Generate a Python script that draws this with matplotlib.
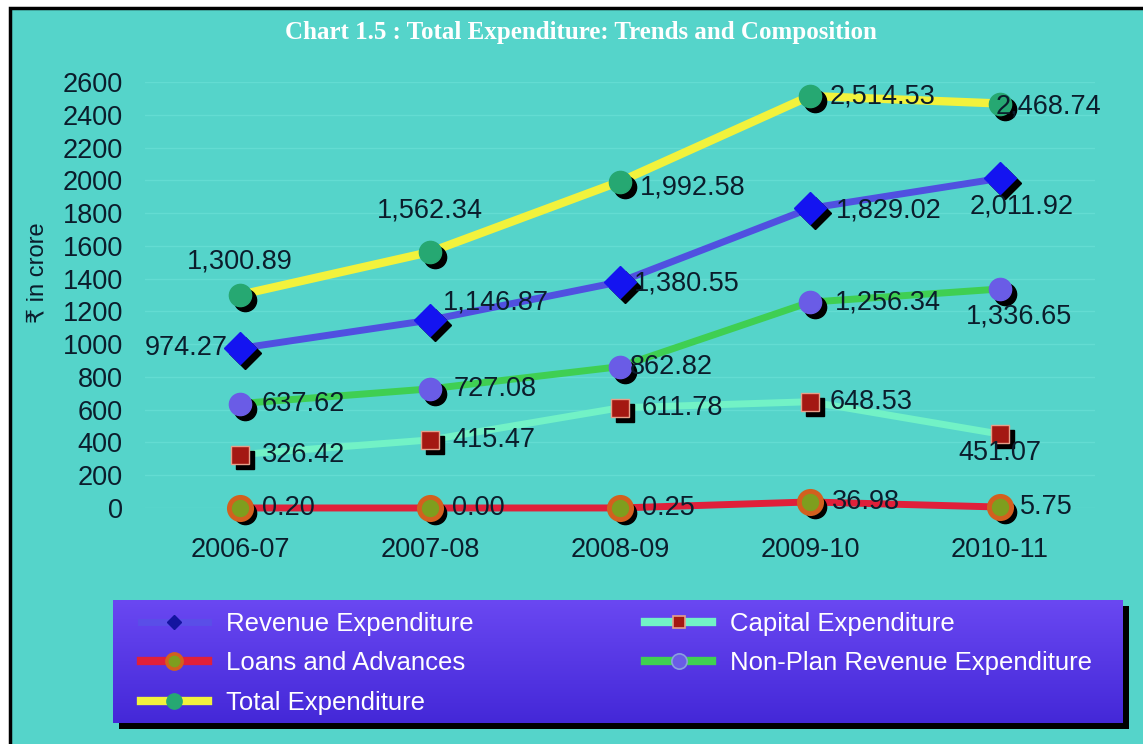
import numpy as np
import matplotlib.pyplot as plt
from matplotlib.lines import Line2D
from matplotlib.patches import Rectangle
from matplotlib.transforms import offset_copy

plt.rcParams['font.family'] = ['Liberation Sans', 'DejaVu Sans']

# --------------------
# Data (Rs. crore)
# --------------------
years = ["2006-07", "2007-08", "2008-09", "2009-10", "2010-11"]

revenue_exp = [974.27, 1146.87, 1380.55, 1829.02, 2011.92]
capital_exp = [326.42, 415.47, 611.78, 648.53, 451.07]
loans_adv = [0.20, 0.00, 0.25, 36.98, 5.75]
nonplan_rev = [637.62, 727.08, 862.82, 1256.34, 1336.65]
total_exp = [1300.89, 1562.34, 1992.58, 2514.53, 2468.74]

y_ticks = list(range(0, 2601, 200))

# label offsets in pixels (dx, dy, ha) for each point
off_total = [(0, 33, "center"), (0, 42, "center"), (20, -6, "left"),
             (20, 0, "left"), (-4, -3, "left")]
off_revenue = [(-12, 0, "right"), (13, 18, "left"), (14, -2, "left"),
               (26, -2, "left"), (22, -28, "center")]
off_nonplan = [(22, 0, "left"), (24, 0, "left"), (10, 0, "left"),
               (25, 0, "left"), (19, -28, "center")]
off_capital = [(22, 0, "left"), (22, 0, "left"), (22, 0, "left"),
               (20, 0, "left"), (0, -19, "center")]
off_loans = [(22, 0, "left"), (22, 0, "left"), (22, 0, "left"),
             (22, 0, "left"), (20, 0, "left")]

BG = "#55d4ca"
LABEL_C = "#0b1d2c"

fig = plt.figure(figsize=(11.43, 7.44), dpi=100, facecolor="white")

# teal panel with black border on top/left
fig.patches.append(Rectangle((10 / 1143, -0.05), 1.1, 1 - 8 / 744 + 0.05,
                             transform=fig.transFigure, facecolor=BG,
                             edgecolor="black", linewidth=2.5, zorder=-2))

fig.text(581 / 1143, 1 - 33 / 744,
         "Chart 1.5 : Total Expenditure: Trends and Composition",
         ha="center", va="center", color="white", fontsize=18,
         fontweight="bold", family="Liberation Serif")

ax = fig.add_axes([145 / 1143, 1 - 508 / 744, 950 / 1143, 426 / 744])
ax.set_facecolor("none")
for s in ax.spines.values():
    s.set_visible(False)

x = np.arange(len(years))
shadow = offset_copy(ax.transData, fig=fig, x=5, y=-5, units="dots")

series = [
    # values, line colour, marker, marker face, marker edge, edge width, size, lw, offsets
    (loans_adv, "#e0203a", "o", "#7e9e1e", "#d2601e", 3.5, 16, 5, off_loans),
    (capital_exp, "#72f2c6", "s", "#a41812", "#e6a08a", 1.0, 13, 5, off_capital),
    (nonplan_rev, "#3fcf52", "o", "#6a5ce6", "#6a5ce6", 1.0, 16, 5, off_nonplan),
    (revenue_exp, "#5050e0", "D", "#1414f0", "#1414f0", 1.0, 16, 5, off_revenue),
    (total_exp, "#f2f23c", "o", "#26a872", "#26a872", 1.0, 16, 6, off_total),
]

for vals, lc, mk, mfc, mec, mew, ms, lw, offs in series:
    ax.plot(x, vals, color=lc, linewidth=lw, solid_capstyle="round", zorder=2,
            clip_on=False)
    ax.plot(x, vals, linestyle="none", marker=mk, markersize=ms,
            markerfacecolor="black", markeredgecolor="black",
            transform=shadow, zorder=3, clip_on=False)
    ax.plot(x, vals, linestyle="none", marker=mk, markersize=ms,
            markerfacecolor=mfc, markeredgecolor=mec, markeredgewidth=mew,
            zorder=4, clip_on=False)
    for xi, v, (dx, dy, ha) in zip(x, vals, offs):
        ax.annotate(f"{v:,.2f}", (xi, v), xytext=(dx, dy),
                    textcoords="offset pixels", ha=ha, va="center",
                    fontsize=19.5, color=LABEL_C, zorder=5)

ax.set_xlim(-0.5, 4.5)
ax.set_ylim(0, 2600)
ax.set_xticks(x)
ax.set_xticklabels(years)
ax.set_yticks(y_ticks)
ax.tick_params(axis="both", length=0, labelsize=19.5, labelcolor=LABEL_C)
ax.tick_params(axis="x", pad=21)
ax.tick_params(axis="y", pad=16)
ax.grid(axis="y", color="#63dcd2", linewidth=1)
ax.set_axisbelow(True)

fig.text(38 / 1143, 1 - 273 / 744, "₹ in crore", rotation=90,
         ha="center", va="center", fontsize=17, color=LABEL_C)

# --------------------
# Legend panel
# --------------------
lx0, lx1 = 113 / 1143, 1123 / 1143
ly0, ly1 = 1 - 723 / 744, 1 - 600 / 744
fig.patches.append(Rectangle((lx0 + 6 / 1143, ly0 - 6 / 744), lx1 - lx0, ly1 - ly0,
                             transform=fig.transFigure, facecolor="black",
                             edgecolor="none", zorder=1))
lax = fig.add_axes([lx0, ly0, lx1 - lx0, ly1 - ly0], zorder=2)
top = np.array([0x6a, 0x48, 0xf2]) / 255
bot = np.array([0x44, 0x28, 0xd8]) / 255
t = np.linspace(0, 1, 64)[:, None, None]
grad = top * (1 - t) + bot * t
lax.imshow(grad, aspect="auto", extent=(0, 1, 0, 1))
lax.axis("off")

handles = [
    Line2D([], [], color="#5a4ee8", lw=5, marker="D", ms=7,
           mfc="#1414a0", mec="#1414a0"),
    Line2D([], [], color="#e0203a", lw=6, marker="o", ms=11,
           mfc="#7e9e1e", mec="#d2601e", mew=2.5),
    Line2D([], [], color="#f2f23c", lw=6, marker="o", ms=11,
           mfc="#26a872", mec="#26a872"),
    Line2D([], [], color="#72f2c6", lw=6, marker="s", ms=9,
           mfc="#a41812", mec="#e6a08a", mew=1.2),
    Line2D([], [], color="#3fcf52", lw=6, marker="o", ms=11,
           mfc="#6a5ce6", mec="#8aa0e0", mew=1.2),
]
labels = ["Revenue Expenditure", "Loans and Advances", "Total Expenditure",
          "Capital Expenditure", "Non-Plan Revenue Expenditure"]
leg = fig.legend(handles, labels, loc="upper left",
                 bbox_to_anchor=(128 / 1143, 1 - 599 / 744), ncol=2,
                 frameon=False, fontsize=18.5, labelcolor="white",
                 handlelength=2.6, handletextpad=0.7, columnspacing=6.7,
                 labelspacing=0.6, borderpad=0)
leg.set_zorder(3)

plt.savefig("out.png", dpi=100, facecolor=fig.get_facecolor())
